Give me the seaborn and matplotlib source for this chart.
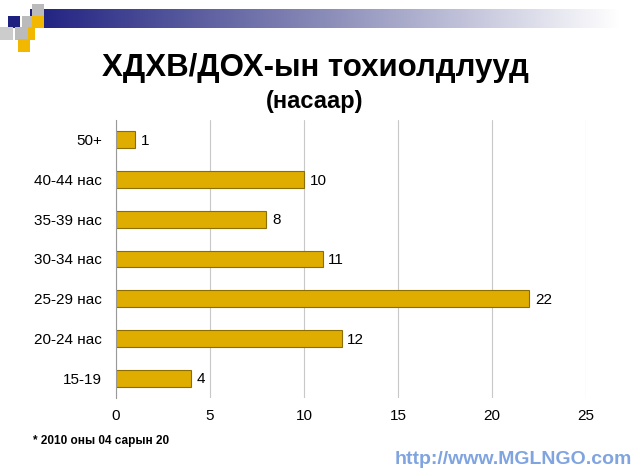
import numpy as np
import pandas as pd
import matplotlib
matplotlib.use("Agg")
import matplotlib.pyplot as plt
import seaborn as sns
from matplotlib.patches import Rectangle
from matplotlib.colors import LinearSegmentedColormap

categories = ["50+", "40-44 нас", "35-39 нас", "30-34 нас", "25-29 нас", "20-24 нас", "15-19"]
values = [1, 10, 8, 11, 22, 12, 4]
x_ticks = [0, 5, 10, 15, 20, 25]

sns.set_theme(style="white")
plt.rcParams['font.family'] = ['Liberation Sans', 'DejaVu Sans']
plt.rcParams['text.color'] = 'black'
plt.rcParams['xtick.color'] = 'black'
plt.rcParams['ytick.color'] = 'black'

df = pd.DataFrame({"cat": categories, "val": values})

fig = plt.figure(figsize=(6.34, 4.70), dpi=100)
ax = fig.add_axes([0.183, 0.153, 0.741, 0.592])

sns.barplot(data=df, y="cat", x="val", order=categories, orient="h",
            color="#DEAD00", edgecolor="#8C6E00", linewidth=0.8, width=0.42,
            saturation=1, ax=ax)

ax.set_xlim(0, 25)
ax.set_xticks(x_ticks)
ax.set_xticklabels([str(t) for t in x_ticks], fontsize=11)
ax.set_ylim(len(categories) - 0.5, -0.5)
ax.set_xlabel("")
ax.set_ylabel("")
ax.tick_params(axis="y", labelsize=11, length=0, pad=10)
ax.tick_params(axis="x", length=0, pad=8)
ax.set_yticks(np.arange(-0.5, len(categories) + 0.5, 1), minor=True)
ax.tick_params(axis="y", which="minor", length=4, color="#999999", direction="out")
ax.grid(axis="x", color="#c8c8c8", linewidth=0.8)
ax.set_axisbelow(True)
for s in ["top", "right", "bottom"]:
    ax.spines[s].set_visible(False)
ax.spines["left"].set_color("#999999")
ax.spines["left"].set_linewidth(0.8)

for i, v in enumerate(values):
    ax.text(v + 0.3, i + 0.03, str(v), va="center", ha="left", fontsize=11, color="black")

fig.text(0.497, 0.855, "ХДХВ/ДОХ-ын тохиолдлууд", ha="center", va="center",
         fontsize=22.5, fontweight="bold")
fig.text(0.497, 0.785, "(насаар)", ha="center", va="center",
         fontsize=17, fontweight="bold")
fig.text(0.052, 0.062, "* 2010 оны 04 сарын 20", ha="left", va="center",
         fontsize=8.5, fontweight="bold")
fig.text(0.997, 0.022, "http://www.MGLNGO.com", ha="right", va="center",
         fontsize=14, fontweight="bold", color="#7FA4E0")

# header gradient band
hax = fig.add_axes([0.048, 0.94, 0.93, 0.04])
grad = np.linspace(0, 1, 256)[None, :]
cm = LinearSegmentedColormap.from_list("g", ["#1e2080", "#8a8cb8", "#ffffff"])
hax.imshow(grad, aspect="auto", cmap=cm, extent=[0, 1, 0, 1])
hax.set_axis_off()

# decorative squares
for (x, y, c) in [(0.012, 0.94, "#1e2080"), (0.035, 0.94, "#bbbbbb"), (0.050, 0.94, "#F2B800"),
                  (0.035, 0.915, "#F2B800"), (0.024, 0.915, "#bbbbbb"), (0.028, 0.89, "#F2B800"),
                  (0.050, 0.965, "#bbbbbb"), (0.0, 0.915, "#cccccc")]:
    fig.patches.append(Rectangle((x, y), 0.02, 0.027, transform=fig.transFigure,
                                 facecolor=c, edgecolor="none"))

fig.savefig("out.png", dpi=100)
